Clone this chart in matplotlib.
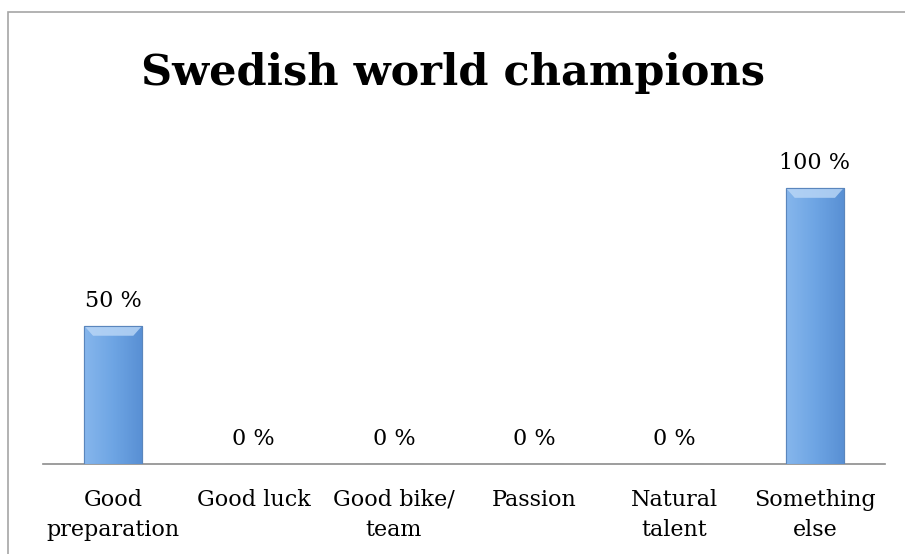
import numpy as np
import matplotlib.pyplot as plt
from matplotlib.patches import Rectangle
from matplotlib.colors import LinearSegmentedColormap

categories = ["Good\npreparation", "Good luck", "Good bike/\nteam", "Passion",
              "Natural\ntalent", "Something\nelse"]
shares = [50, 0, 0, 0, 0, 100]

W, H = 905, 554
fig = plt.figure(figsize=(W / 100, H / 100), dpi=100)
plt.rcParams['font.family'] = ['DejaVu Serif']

# outer chart frame, open to the right and bottom
fig.patches.append(Rectangle((8 / W, -0.1), 1.2, 1 - 12 / H + 0.1,
                             transform=fig.transFigure, fill=False,
                             edgecolor='#a6a6a6', linewidth=1.2))

ax = fig.add_axes([43 / W, 1 - 464 / H, 842 / W, (464 - 133) / H])
x = np.arange(len(categories))
bars = ax.bar(x, shares, width=0.41, color='#6b9fdd', edgecolor='#5a86bd',
              linewidth=0.8, zorder=2)

# horizontal shading on each bar
shade = LinearSegmentedColormap.from_list('shade', ['#86b6ec', '#6ea5e4', '#5990d4'])
grad = np.linspace(0, 1, 64).reshape(1, -1)
for b in bars:
    if b.get_height() <= 0:
        continue
    x0, w, h = b.get_x(), b.get_width(), b.get_height()
    im = ax.imshow(grad, cmap=shade, aspect='auto', zorder=3,
                   extent=[x0, x0 + w, 0, h], interpolation='bicubic')
    im.set_clip_path(b)
    # light bevel along the top edge
    ax.fill([x0, x0 + w, x0 + w * 0.85, x0 + w * 0.15],
            [h, h, h - 3.5, h - 3.5], color='#bcd8f7', alpha=0.8, zorder=4,
            linewidth=0)
    ax.add_patch(Rectangle((x0, 0), w, h, fill=False, edgecolor='#5a86bd',
                           linewidth=0.8, zorder=5))

for xi, v in zip(x, shares):
    ax.annotate(f"{v} %", (xi, v), xytext=(0, 10), textcoords='offset points',
                ha='center', va='bottom', fontsize=16)

ax.set_xlim(-0.5, len(categories) - 0.5)
ax.set_ylim(0, 120)
ax.set_xticks(x)
ax.set_xticklabels(categories, fontsize=16, linespacing=1.45)
ax.tick_params(axis='x', length=0, pad=18)
ax.set_yticks([])
for s in ['top', 'right', 'left']:
    ax.spines[s].set_visible(False)
ax.spines['bottom'].set_color('#8c8c8c')
ax.spines['bottom'].set_linewidth(1.2)

fig.text(0.5, 1 - 73 / H, "Swedish world champions", ha='center', va='center',
         fontsize=31, fontweight='bold')

fig.savefig("out.png", dpi=100)
